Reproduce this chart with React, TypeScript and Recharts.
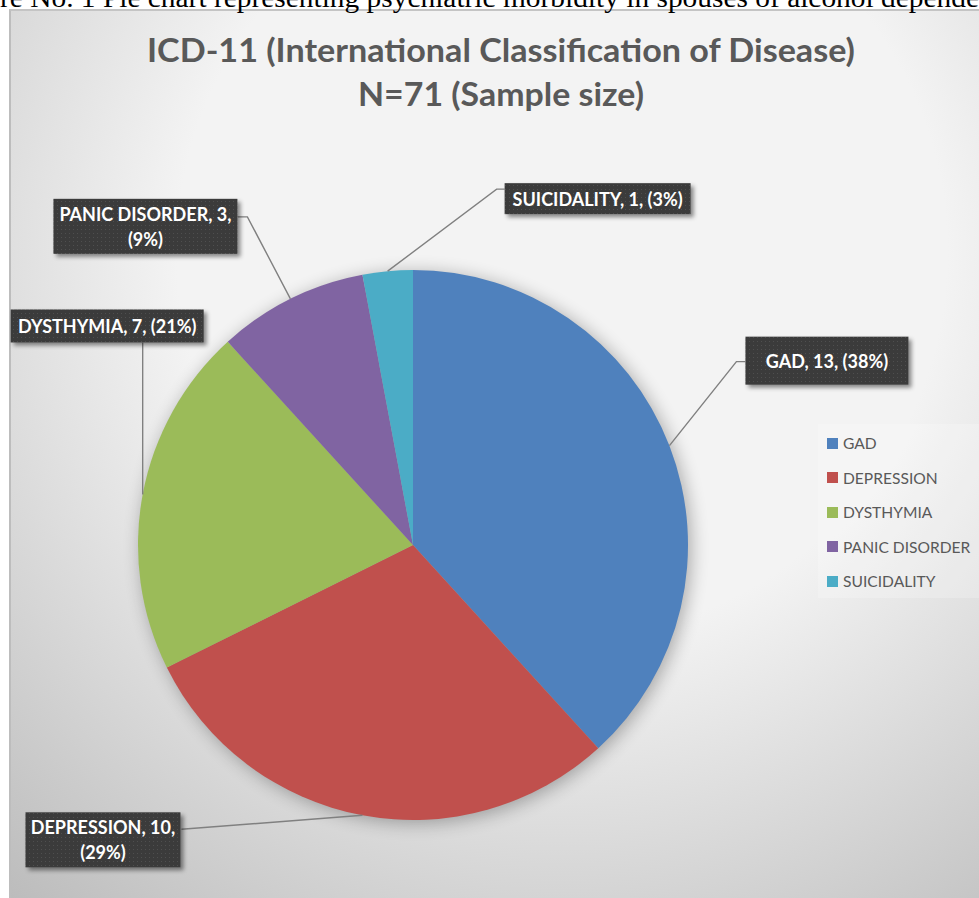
import React from 'react'
import { PieChart, Pie, Cell, Legend, Sector } from 'recharts'

// ICD-11 diagnoses among spouses, N=71
const CATEGORIES = ['GAD', 'DEPRESSION', 'DYSTHYMIA', 'PANIC DISORDER', 'SUICIDALITY']
const COUNTS = [13, 10, 7, 3, 1]
const COLORS = ['#4f81bd', '#c0504d', '#9bbb59', '#8064a2', '#4bacc6']

const TITLE_LINES = ['ICD-11 (International Classification of Disease)', 'N=71 (Sample size)']
const TITLE_WIDTHS = [708, 286]
const CAPTION = 're No. 1 Pie chart representing psychiatric morbidity in spouses of alcohol depende'

// callout boxes, placed relative to the point where the slice's mid angle meets the rim
const LABEL_LAYOUT = [
  { dx: 76, dy: -109, w: 163, h: 48, wrap: false, path: [[67, -84], [76, -84]] },
  { dx: -337, dy: -3, w: 155, h: 55, wrap: true, path: [[-181, 14]] },
  { dx: -132, dy: -185, w: 193, h: 33, wrap: false, path: [[0, -152]] },
  { dx: -237, dy: -100, w: 184, h: 55, wrap: true, path: [[-43, -82], [-53, -82]] },
  { dx: 117, dy: -88, w: 186, h: 31, wrap: false, path: [[109, -82], [117, -82]] },
]

const FONT = 'Lato, "Open Sans", sans-serif'
const RADIAN = Math.PI / 180

const data = CATEGORIES.map((name, i) => ({ name, value: COUNTS[i] }))

function renderLabel(props: any) {
  const { cx, cy, midAngle, outerRadius, percent, value, name } = props
  const idx = typeof props.index === 'number' ? props.index : CATEGORIES.indexOf(name)
  const lay = LABEL_LAYOUT[idx]
  if (!lay) return null
  const ax = cx + outerRadius * Math.cos(-midAngle * RADIAN)
  const ay = cy + outerRadius * Math.sin(-midAngle * RADIAN)
  const pts = [[ax, ay], ...lay.path.map(([px, py]) => [ax + px, ay + py])]
  const bx = ax + lay.dx
  const by = ay + lay.dy
  const pct = `(${Math.round(percent * 100)}%)`
  const lines = lay.wrap ? [`${name}, ${value},`, pct] : [`${name}, ${value}, ${pct}`]
  const midY = by + lay.h / 2
  return (
    <g key={`lbl-${idx}`}>
      <polyline points={pts.map(p => p.join(',')).join(' ')} fill="none" stroke="#808080" strokeWidth={1.4} />
      <rect x={bx} y={by} width={lay.w} height={lay.h} fill="url(#dots)" filter="url(#boxShadow)" />
      {lines.map((t, i) => (
        <text
          key={i}
          x={bx + lay.w / 2}
          y={midY + (i - (lines.length - 1) / 2) * 25}
          textAnchor="middle"
          dominantBaseline="central"
          fill="#ffffff"
          fontFamily={FONT}
          fontWeight={700}
          fontSize={18}
        >
          {t}
        </text>
      ))}
    </g>
  )
}

// first slice also paints the soft shadow under the whole pie
function renderSector(props: any) {
  const first = Math.abs(props.startAngle - 90) < 0.01
  return (
    <g>
      {first && (
        <circle cx={props.cx + 3} cy={props.cy + 3} r={props.outerRadius} fill="#000" opacity={0.3} filter="url(#pieShadow)" />
      )}
      <Sector {...props} stroke="none" />
    </g>
  )
}

function renderLegend() {
  return (
    <div style={{ width: '100%', height: '100%', background: 'rgba(255,255,255,0.22)', paddingTop: 2, boxSizing: 'border-box' }}>
      {CATEGORIES.map((c, i) => (
        <div key={c} style={{ display: 'flex', alignItems: 'center', height: 34.5, paddingLeft: 9 }}>
          <span style={{ width: 11, height: 11, background: COLORS[i], display: 'inline-block', marginRight: 5 }} />
          <span style={{ fontFamily: FONT, fontSize: 15.6, color: '#595959' }}>{c}</span>
        </div>
      ))}
    </div>
  )
}

export default function App() {
  return (
    <div style={{ position: 'absolute', left: 0, top: 0, width: 979, height: 898, overflow: 'hidden', background: '#fff' }}>
      <svg width={0} height={0} style={{ position: 'absolute' }}>
        <defs>
          <pattern id="dots" width={4} height={4} patternUnits="userSpaceOnUse">
            <rect width={4} height={4} fill="#3a3a3a" />
            <rect x={1} y={1} width={1} height={1} fill="#505050" />
          </pattern>
          <filter id="boxShadow" x="-10%" y="-20%" width="130%" height="160%">
            <feDropShadow dx={3} dy={3} stdDeviation={2} floodColor="#000" floodOpacity={0.45} />
          </filter>
          <filter id="pieShadow" x="-20%" y="-20%" width="140%" height="140%">
            <feGaussianBlur stdDeviation={9} />
          </filter>
        </defs>
      </svg>
      <div
        style={{
          position: 'absolute', left: 9, top: 9, width: 980, height: 900,
          borderLeft: '2px solid #bdbdbd', borderTop: '2px solid #c4c4c4',
          background: 'radial-gradient(circle 850px at 551px 241px, #f3f3f3 0px, #f3f3f3 385px, #bcbcbc 850px)',
        }}
      />
      <svg width={979} height={120} style={{ position: 'absolute', left: 0, top: 0 }}>
        <text
          x={0}
          y={7}
          textLength={979}
          lengthAdjust="spacingAndGlyphs"
          fontFamily='"Liberation Serif", "Times New Roman", serif'
          fontSize={27}
          fill="#000"
        >
          {CAPTION}
        </text>
        {TITLE_LINES.map((t, i) => (
          <text
            key={i}
            x={501}
            y={62 + i * 44}
            textAnchor="middle"
            textLength={TITLE_WIDTHS[i]}
            lengthAdjust="spacingAndGlyphs"
            fontFamily={FONT}
            fontWeight={700}
            fontSize={32}
            fill="#595959"
          >
            {t}
          </text>
        ))}
      </svg>
      <div style={{ position: 'absolute', left: 0, top: 0 }}>
        <PieChart width={979} height={898} margin={{ top: 0, right: 0, bottom: 0, left: 0 }}>
          <Pie
            data={data}
            dataKey="value"
            nameKey="name"
            cx={413}
            cy={545}
            outerRadius={275}
            startAngle={90}
            endAngle={-270}
            stroke="none"
            label={renderLabel}
            labelLine={false}
            shape={renderSector}
            inactiveShape={renderSector}
            isAnimationActive={false}
          >
            {data.map((d, i) => <Cell key={d.name} fill={COLORS[i]} />)}
          </Pie>
          <Legend
            layout="vertical"
            verticalAlign="top"
            align="right"
            content={renderLegend}
            wrapperStyle={{ left: 818, top: 424, width: 170, height: 174 }}
          />
        </PieChart>
      </div>
    </div>
  )
}
